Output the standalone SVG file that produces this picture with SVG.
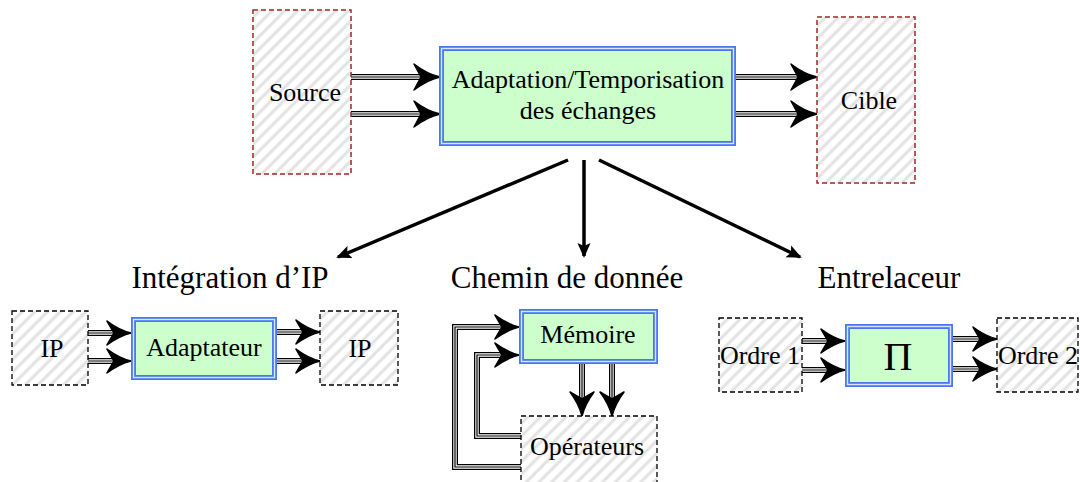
<svg xmlns="http://www.w3.org/2000/svg" width="1080" height="482" viewBox="0 0 1080 482">
<defs>
<pattern id="hatch" patternUnits="userSpaceOnUse" width="9" height="9" patternTransform="rotate(45)">
<rect width="9" height="9" fill="#ffffff"/>
<line x1="2" y1="0" x2="2" y2="9" stroke="#e2e2e2" stroke-width="3"/>
</pattern>
<marker id="ah" markerWidth="16" markerHeight="14" refX="13" refY="7" orient="auto" markerUnits="userSpaceOnUse" viewBox="0 0 16 14">
<path d="M0,0.5 L15,7 L0,13.5 L3,7 Z" fill="#000"/>
</marker>
</defs>
<style>
.lbl{font-family:"Liberation Serif","Times New Roman",serif;font-size:26px;fill:#000;text-anchor:middle}
.sec{font-family:"Liberation Serif","Times New Roman",serif;font-size:31px;fill:#000;text-anchor:middle}
.ext{fill:url(#hatch);stroke:#000;stroke-width:1.3;stroke-dasharray:5,3}
.extr{fill:url(#hatch);stroke:#a0262a;stroke-width:1.5;stroke-dasharray:5,3}
.blk{fill:#ccffcc;stroke:#4a78f0;stroke-width:5}
.blki{fill:none;stroke:#d8e6ff;stroke-width:1.4}
.o{fill:none;stroke:#000;stroke-width:6}
.m{fill:none;stroke:#fff;stroke-width:3.4}
.c{fill:none;stroke:#000;stroke-width:1.2}
.hd{fill:#000;stroke:#000;stroke-width:1.5;stroke-linejoin:round}
.big{fill:none;stroke:#000;stroke-width:3.5;marker-end:url(#ah)}
</style>
<rect width="1080" height="482" fill="#fff"/>

<g id="connectors">
<g id="tri-lines">
<path class="o" d="M351,77H422M351,114H422M736,77H799M736,114H799M88,333H114M88,361H114M277,332H303M277,361H303M802,341H828M802,370H828M953,339H980M953,369H980M582,364V398M612,364V398M521,467H455V327H502M521,436H477V355H502"/>
<path class="m" d="M351,77H422M351,114H422M736,77H799M736,114H799M88,333H114M88,361H114M277,332H303M277,361H303M802,341H828M802,370H828M953,339H980M953,369H980M582,364V398M612,364V398M521,467H455V327H502M521,436H477V355H502"/>
<path class="c" d="M351,77H422M351,114H422M736,77H799M736,114H799M88,333H114M88,361H114M277,332H303M277,361H303M802,341H828M802,370H828M953,339H980M953,369H980M582,364V398M612,364V398M521,467H455V327H502M521,436H477V355H502"/>
</g>
<g id="heads-g">
<path class="hd" d="M440,77 q-13,-3 -26,-13 l7,13 l-7,13 q13,-10 26,-13 Z"/>
<path class="hd" d="M440,114 q-13,-3 -26,-13 l7,13 l-7,13 q13,-10 26,-13 Z"/>
<path class="hd" d="M817,77 q-13,-3 -26,-13 l7,13 l-7,13 q13,-10 26,-13 Z"/>
<path class="hd" d="M817,114 q-13,-3 -26,-13 l7,13 l-7,13 q13,-10 26,-13 Z"/>
<path class="hd" d="M131,333 q-12,-3 -24,-12 l7,12 l-7,12 q12,-9 24,-12 Z"/>
<path class="hd" d="M131,361 q-12,-3 -24,-12 l7,12 l-7,12 q12,-9 24,-12 Z"/>
<path class="hd" d="M320,332 q-12,-3 -24,-12 l7,12 l-7,12 q12,-9 24,-12 Z"/>
<path class="hd" d="M320,361 q-12,-3 -24,-12 l7,12 l-7,12 q12,-9 24,-12 Z"/>
<path class="hd" d="M845,341 q-12,-3 -24,-12 l7,12 l-7,12 q12,-9 24,-12 Z"/>
<path class="hd" d="M845,370 q-12,-3 -24,-12 l7,12 l-7,12 q12,-9 24,-12 Z"/>
<path class="hd" d="M997,339 q-12,-3 -24,-12 l7,12 l-7,12 q12,-9 24,-12 Z"/>
<path class="hd" d="M997,369 q-12,-3 -24,-12 l7,12 l-7,12 q12,-9 24,-12 Z"/>
<path class="hd" d="M519,327 q-12,-3 -24,-12 l7,12 l-7,12 q12,-9 24,-12 Z"/>
<path class="hd" d="M519,355 q-12,-3 -24,-12 l7,12 l-7,12 q12,-9 24,-12 Z"/>
<path class="hd" d="M582,416 q-3,-12 -12,-24 l12,7 l12,-7 q-9,12 -12,24 Z"/>
<path class="hd" d="M612,416 q-3,-12 -12,-24 l12,7 l12,-7 q-9,12 -12,24 Z"/>
</g>
<path class="big" d="M568,160L338,257"/>
<path class="big" d="M584,160V256"/>
<path class="big" d="M599,160L800,257"/>
</g>

<g id="source"><rect class="extr" x="253" y="10" width="98" height="164"/><text class="lbl" x="305" y="101">Source</text></g>
<g id="adapt"><rect class="blk" x="441.5" y="48.5" width="292" height="95"/><rect class="blki" x="441.5" y="48.5" width="292" height="95"/><text class="lbl" x="588" y="88">Adaptation/Temporisation</text><text class="lbl" x="588" y="119">des échanges</text></g>
<g id="cible"><rect class="extr" x="817" y="17" width="98" height="166"/><text class="lbl" x="869" y="109">Cible</text></g>

<g id="lbl-ip"><text class="sec" x="230" y="288">Intégration d’IP</text></g>
<g id="lbl-chemin"><text class="sec" x="567" y="288">Chemin de donnée</text></g>
<g id="lbl-entre"><text class="sec" x="889" y="288">Entrelaceur</text></g>

<g id="ip1"><rect class="ext" x="12" y="311" width="76" height="74"/><text class="lbl" x="52" y="357">IP</text></g>
<g id="adaptateur"><rect class="blk" x="133.5" y="319.5" width="141" height="58"/><rect class="blki" x="133.5" y="319.5" width="141" height="58"/><text class="lbl" x="204" y="356">Adaptateur</text></g>
<g id="ip2"><rect class="ext" x="320" y="311" width="78" height="74"/><text class="lbl" x="360" y="357">IP</text></g>

<g id="memoire"><rect class="blk" x="521.5" y="311.5" width="134" height="50"/><rect class="blki" x="521.5" y="311.5" width="134" height="50"/><text class="lbl" x="588" y="343">Mémoire</text></g>
<g id="operateurs"><rect class="ext" x="521" y="416" width="136" height="80"/><text class="lbl" x="587" y="455">Opérateurs</text></g>

<g id="ordre1"><rect class="ext" x="719" y="318" width="83" height="74"/><text class="lbl" x="760" y="364">Ordre 1</text></g>
<g id="pi"><rect class="blk" x="847.5" y="326.5" width="103" height="58"/><rect class="blki" x="847.5" y="326.5" width="103" height="58"/><text class="lbl" x="898" y="370" style="font-size:40px">Π</text></g>
<g id="ordre2"><rect class="ext" x="997" y="318" width="81" height="74"/><text class="lbl" x="1038" y="364">Ordre 2</text></g>
</svg>
